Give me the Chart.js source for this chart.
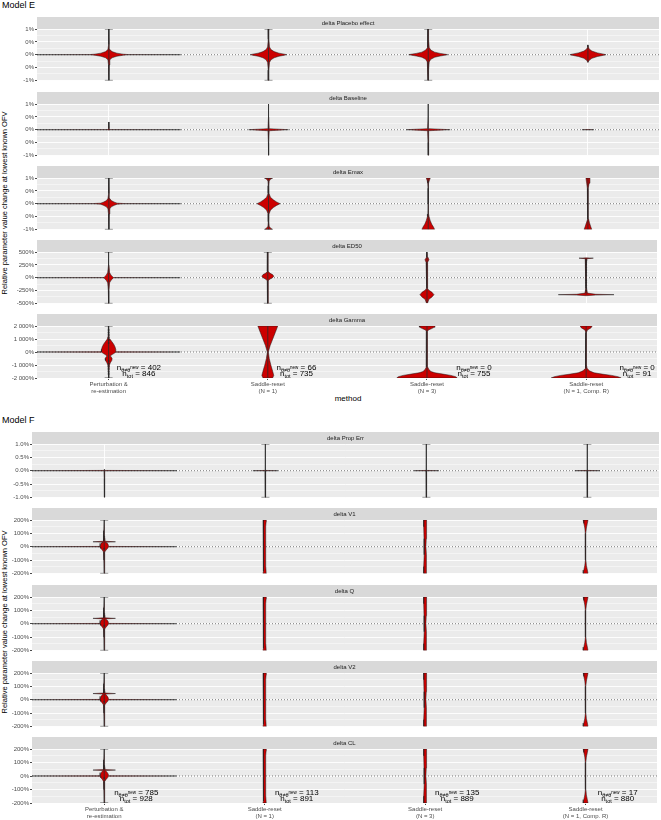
<!DOCTYPE html>
<html lang="en">
<head>
<meta charset="UTF-8">
<title>Relative parameter value change - Model E / Model F</title>
<script src="https://cdn.jsdelivr.net/npm/chart.js"></script>
<style>
  body { margin: 0; background: #fff; font-family: "Liberation Sans", Arial, sans-serif; -webkit-font-smoothing: antialiased; }
  #wrap { position: relative; width: 661px; height: 820px; overflow: hidden; }
  #wrap canvas { position: absolute; left: 0; }
  .lbl { position: absolute; white-space: nowrap; color: #000; line-height: 1; }
  .ytitle { font-size: 7.5px; transform: translate(-50%, -50%) rotate(-90deg); }
</style>
</head>
<body>
<div id="wrap">
  <div class="lbl" style="left:2px; top:1px; font-size:9px;">Model E</div>
  <div class="lbl ytitle" style="left:5px; top:203px;">Relative parameter value change at lowest known OFV</div>
  <div class="lbl" style="left:298px; width:100px; text-align:center; top:395px; font-size:8px;">method</div>

  <div class="lbl" style="left:2px; top:416px; font-size:9px;">Model F</div>
  <div class="lbl ytitle" style="left:5px; top:622px;">Relative parameter value change at lowest known OFV</div>
</div>

<script>
// ---------- data ----------
const categories = [
  ['Perturbation &', 're-estimation'],
  ['Saddle-reset', '(N = 1)'],
  ['Saddle-reset', '(N = 3)'],
  ['Saddle-reset', '(N = 1, Comp. R)']
];

// Model E
const stripsE = ['delta Placebo effect', 'delta Baseline', 'delta Emax', 'delta ED50', 'delta Gamma'];
const nNewE = [402, 66, 0, 0];
const nTotE = [846, 735, 755, 91];

const ticksPct = [-1, -0.5, 0, 0.5, 1];
const labelsPctE = ['-1%', '0%', '0%', '0%', '1%'];
const ticksED50 = [-500, -250, 0, 250, 500];
const labelsED50 = ['-500%', '-250%', '0%', '250%', '500%'];
const ticksGamma = [-2000, -1000, 0, 1000, 2000];
const labelsGamma = ['-2 000%', '-1 000%', '0%', '1 000%', '2 000%'];

// violin profiles: [value, half width] from bottom to top, one per method
const vPlacebo = [
  [[-1, 0], [-0.4, 0.002], [-0.2, 0.006], [-0.12, 0.02], [-0.06, 0.05], [-0.02, 0.09], [-0.005, 0.12], [0, 0.45],
   [0.005, 0.12], [0.02, 0.09], [0.06, 0.05], [0.12, 0.02], [0.2, 0.006], [0.4, 0.002], [1, 0]],
  [[-1, 0.003], [-0.9, 0.002], [-0.6, 0.002], [-0.3, 0.006], [-0.2, 0.015], [-0.12, 0.035], [-0.06, 0.065], [-0.02, 0.1], [0, 0.113],
   [0.02, 0.1], [0.06, 0.065], [0.12, 0.035], [0.2, 0.015], [0.3, 0.006], [0.6, 0.002], [0.9, 0.002], [1, 0.003]],
  [[-1, 0.002], [-0.6, 0.002], [-0.28, 0.006], [-0.18, 0.016], [-0.1, 0.04], [-0.05, 0.075], [-0.015, 0.11], [0, 0.122],
   [0.015, 0.11], [0.05, 0.075], [0.1, 0.04], [0.18, 0.016], [0.28, 0.006], [0.6, 0.002], [1, 0.002]],
  [[-0.3, 0], [-0.22, 0.008], [-0.14, 0.025], [-0.07, 0.06], [-0.02, 0.1], [0, 0.113], [0.02, 0.1], [0.07, 0.06],
   [0.14, 0.025], [0.22, 0.008], [0.3, 0.003], [0.38, 0]]
];
const wPlacebo = [[-1, 1], [-1, 1], [-1, 1], [-0.3, 0.38]];

const vBaseline = [
  [[-0.02, 0], [-0.004, 0.006], [0, 0.45], [0.004, 0.006], [0.05, 0.002], [0.3, 0]],
  [[-1, 0], [-0.5, 0.001], [-0.04, 0.004], [0, 0.125], [0.04, 0.004], [0.5, 0.001], [1, 0]],
  [[-1, 0], [-0.5, 0.001], [-0.04, 0.004], [0, 0.1375], [0.04, 0.004], [0.5, 0.001], [1, 0]],
  [[-0.01, 0], [0, 0.0375], [0.01, 0]]
];
const wBaseline = [[0, 0.3], [-1, 1], [-1, 1], null];

const vEmax = [
  [[-1, 0], [-0.4, 0.002], [-0.2, 0.006], [-0.12, 0.015], [-0.06, 0.035], [-0.02, 0.052], [-0.005, 0.1], [0, 0.45],
   [0.005, 0.1], [0.02, 0.052], [0.06, 0.035], [0.12, 0.015], [0.2, 0.006], [0.4, 0.002], [1, 0]],
  [[-1, 0.025], [-0.95, 0.012], [-0.88, 0.004], [-0.7, 0.002], [-0.4, 0.003], [-0.25, 0.012], [-0.15, 0.03], [-0.07, 0.05], [0, 0.072],
   [0.07, 0.05], [0.15, 0.03], [0.25, 0.012], [0.4, 0.003], [0.7, 0.002], [0.88, 0.004], [0.95, 0.012], [1, 0.025]],
  [[-1, 0.04], [-0.9, 0.032], [-0.8, 0.022], [-0.65, 0.012], [-0.5, 0.005], [-0.4, 0.002], [0, 0.001], [0.6, 0.001],
   [0.8, 0.003], [0.9, 0.007], [1, 0.0125]],
  [[-1, 0.024], [-0.9, 0.018], [-0.75, 0.01], [-0.6, 0.004], [-0.45, 0.001], [0, 0.001], [0.4, 0.001], [0.6, 0.004],
   [0.8, 0.008], [1, 0.0125]]
];
const wEmax = [[-1, 1], [-1, 1], [-1, 1], [-1, 1]];

const vED50 = [
  [[-500, 0], [-250, 0.002], [-100, 0.006], [-50, 0.015], [-20, 0.025], [-3, 0.03], [0, 0.45], [3, 0.03], [20, 0.025],
   [50, 0.015], [100, 0.006], [250, 0.002], [500, 0]],
  [[-500, 0.002], [-300, 0.002], [-60, 0.004], [-30, 0.012], [0, 0.03], [30, 0.0375], [60, 0.03], [90, 0.012],
   [120, 0.004], [300, 0.002], [500, 0.002]],
  [[-490, 0.004], [-420, 0.012], [-380, 0.03], [-330, 0.044], [-280, 0.03], [-240, 0.01], [-200, 0.002], [200, 0.002],
   [300, 0.006], [350, 0.0125], [400, 0.006], [450, 0.002], [500, 0]],
  [[-350, 0], [-338, 0.06], [-330, 0.175], [-322, 0.06], [-300, 0.008], [-200, 0.002], [300, 0.002], [370, 0.006],
   [380, 0.045], [386, 0]]
];
const wED50 = [[-500, 500], [-500, 500], [-490, 500], [-330, 380]];
const pED50 = [[4, 330], [4, 290], [4, 250], [4, 200], [4, 150], [4, 100], [4, 50], [4, -50], [4, -100], [4, -150], [4, -200], [4, -250]];

const vGamma = [
  [[-2000, 0], [-1500, 0.002], [-1000, 0.005], [-800, 0.012], [-650, 0.02], [-500, 0.022], [-380, 0.016], [-300, 0.01],
   [-200, 0.022], [-100, 0.035], [-10, 0.045], [0, 0.45], [10, 0.045], [200, 0.045], [400, 0.04], [600, 0.032], [800, 0.02],
   [1000, 0.008], [1300, 0.003], [2000, 0]],
  [[-2000, 0.03], [-1800, 0.0375], [-1500, 0.031], [-1000, 0.019], [-500, 0.009], [0, 0.003], [500, 0.015],
   [1000, 0.031], [1500, 0.047], [2000, 0.0625]],
  [[-2000, 0.19], [-1900, 0.18], [-1800, 0.15], [-1700, 0.1], [-1600, 0.05], [-1500, 0.025], [-1350, 0.012], [-1150, 0.004],
   [1600, 0.003], [1700, 0.01], [1800, 0.03], [1900, 0.045], [2000, 0.05]],
  [[-2000, 0.22], [-1900, 0.2], [-1800, 0.16], [-1700, 0.1], [-1600, 0.05], [-1450, 0.02], [-1250, 0.006], [-1000, 0.002],
   [1500, 0.002], [1700, 0.008], [1850, 0.03], [2000, 0.0375]]
];
const wGamma = [[-2000, 2000], [-2000, 2000], [-2000, 2000], [-2000, 2000]];
const pGamma = [[1, 1700], [1, 1500], [1, 1300], [1, 1100], [1, 900], [1, 700], [1, -700], [1, -900], [1, -1100], [1, -1300], [1, -1500], [1, -1700]];

// Model F
const stripsF = ['delta Prop Err', 'delta V1', 'delta Q', 'delta V2', 'delta CL'];
const nNewF = [785, 113, 135, 17];
const nTotF = [928, 891, 889, 880];

const labelsPctF = ['-1.0%', '-0.5%', '0.0%', '0.5%', '1.0%'];
const ticks200 = [-200, -100, 0, 100, 200];
const labels200 = ['-200%', '-100%', '0%', '100%', '200%'];

const vPropErr = [
  [[-1, 0], [-0.3, 0.001], [-0.01, 0.003], [0, 0.45], [0.01, 0.003], [0.05, 0]],
  [[-1, 0], [-0.5, 0.001], [-0.01, 0.002], [0, 0.078], [0.01, 0.002], [0.5, 0.001], [1, 0]],
  [[-1, 0], [-0.5, 0.001], [-0.01, 0.002], [0, 0.078], [0.01, 0.002], [0.5, 0.001], [1, 0]],
  [[-1, 0], [-0.5, 0.001], [-0.01, 0.002], [0, 0.078], [0.01, 0.002], [0.5, 0.001], [1, 0]]
];
const wPropErr = [[-1, 0.05], [-1, 1], [-1, 1], [-1, 1]];

// saddle-reset methods look alike in all structural parameters
const vSaddleF = [
  [[-200, 0.011], [-185, 0.009], [-150, 0.007], [0, 0.006], [150, 0.007], [185, 0.009], [200, 0.01]],
  [[-200, 0.009], [-150, 0.009], [-60, 0.007], [0, 0.005], [60, 0.007], [150, 0.009], [200, 0.009]],
  [[-200, 0.015], [-175, 0.011], [-140, 0.005], [-100, 0.002], [-60, 0.001], [60, 0.001], [100, 0.002], [140, 0.005],
   [175, 0.011], [200, 0.015]]
];
const wSaddleF = [null, null, null];

const vV1 = [[[-200, 0], [-100, 0.002], [-40, 0.004], [-25, 0.012], [-12, 0.022], [-2, 0.026], [0, 0.45], [2, 0.026],
  [12, 0.026], [25, 0.02], [33, 0.008], [37, 0.07], [41, 0.006], [70, 0.003], [120, 0.002], [200, 0]], ...vSaddleF];
const vQ = [[[-200, 0], [-100, 0.002], [-40, 0.004], [-25, 0.012], [-12, 0.022], [-2, 0.026], [0, 0.45], [2, 0.026],
  [12, 0.026], [25, 0.02], [36, 0.008], [40, 0.07], [44, 0.006], [70, 0.003], [120, 0.002], [200, 0]], ...vSaddleF];
const vV2 = [[[-200, 0], [-100, 0.002], [-40, 0.004], [-25, 0.012], [-12, 0.022], [-2, 0.026], [0, 0.45], [2, 0.026],
  [12, 0.026], [25, 0.02], [42, 0.008], [46, 0.07], [50, 0.006], [70, 0.003], [120, 0.002], [200, 0]], ...vSaddleF];
const vCL = [[[-200, 0], [-100, 0.002], [-40, 0.004], [-25, 0.012], [-12, 0.022], [-2, 0.026], [0, 0.45], [2, 0.026],
  [12, 0.026], [25, 0.02], [40, 0.008], [44, 0.07], [48, 0.006], [70, 0.003], [120, 0.002], [200, 0]], ...vSaddleF];
const wStructF = [[-200, 200], ...wSaddleF];
const pStructF = [[1, 74], [1, 58], [1, -15]];

// ---------- drawing ----------
const FONT = '"Liberation Sans", Arial, sans-serif';
Chart.defaults.font.family = FONT;

const X_MIN = 0.55, X_MAX = 4.445, CAP = 0.025;

function violinPts(cx, prof) {
  const right = prof.map(([y, w]) => ({ x: cx + w, y }));
  const left = prof.slice().reverse().map(([y, w]) => ({ x: cx - w, y }));
  return right.concat(left, [right[0]]);
}

function whiskerPts(cx, lo, hi, cap) {
  const pts = [{ x: cx, y: lo }, { x: cx, y: hi }];
  if (cap) {
    pts.push({ x: cx, y: null }, { x: cx - CAP, y: hi }, { x: cx + CAP, y: hi },
             { x: cx, y: null }, { x: cx - CAP, y: lo }, { x: cx + CAP, y: lo });
  }
  return pts;
}

function drawN(ctx, cx, cy, sub, sup, rest) {
  ctx.save();
  ctx.fillStyle = '#000';
  ctx.textAlign = 'left';
  ctx.textBaseline = 'alphabetic';
  ctx.font = '8px ' + FONT;
  const wn = ctx.measureText('n').width, wr = ctx.measureText(rest).width;
  ctx.font = '5.5px ' + FONT;
  const ws = ctx.measureText(sub).width;
  ctx.font = '4.5px ' + FONT;
  const wp = sup ? ctx.measureText(sup).width : 0;
  let x = cx - (wn + ws + wp + wr) / 2;
  const base = cy + 2.6;
  ctx.font = '8px ' + FONT; ctx.fillText('n', x, base); x += wn;
  ctx.font = '5.5px ' + FONT; ctx.fillText(sub, x, base + 1.8); x += ws;
  if (sup) { ctx.font = '4.5px ' + FONT; ctx.fillText(sup, x, base - 1.2); x += wp; }
  ctx.font = '8px ' + FONT; ctx.fillText(rest, x, base);
  ctx.restore();
}

function makePanel(p) {
  const h = 12 + p.panelH + (p.bottom ? p.xAxisH : 4);
  const canvas = document.createElement('canvas');
  canvas.width = 661; canvas.height = h;
  canvas.style.top = p.top + 'px';
  canvas.style.width = '661px'; canvas.style.height = h + 'px';
  document.getElementById('wrap').appendChild(canvas);

  const minor = [];
  for (let i = 0; i < p.ticks.length - 1; i++) minor.push((p.ticks[i] + p.ticks[i + 1]) / 2);
  const allTicks = p.ticks.concat(minor).sort((a, b) => a - b);
  const isMajor = v => p.ticks.includes(v);

  const datasets = [{
    data: [{ x: X_MIN, y: 0 }, { x: X_MAX, y: 0 }],
    borderColor: '#222', borderWidth: 0.6, borderDash: [1, 2], pointRadius: 0, order: 5
  }];
  p.violins.forEach((prof, i) => {
    datasets.push({
      data: violinPts(i + 1, prof), fill: 'shape', backgroundColor: '#cc0000',
      borderColor: '#1a1a1a', borderWidth: 0.5, pointRadius: 0, tension: 0, order: 2
    });
  });
  p.whiskers.forEach((w, i) => {
    if (!w) return;
    datasets.push({
      data: whiskerPts(i + 1, w[0], w[1], p.caps[i]), borderColor: '#2b2b2b', borderWidth: 0.8,
      pointRadius: 0, spanGaps: false, order: 1
    });
  });
  if (p.points && p.points.length) {
    datasets.push({
      data: p.points.map(([c, v]) => ({ x: c, y: v })), showLine: false,
      pointRadius: 1, pointBackgroundColor: 'rgba(40,40,40,0.7)', pointBorderWidth: 0, order: 0
    });
  }

  const stripPlugin = {
    id: 'strip',
    beforeDraw(chart) {
      const { ctx, chartArea: a } = chart;
      ctx.save();
      ctx.fillStyle = '#ebebeb';
      ctx.fillRect(a.left, a.top, a.right - a.left, a.bottom - a.top);
      ctx.fillStyle = '#d9d9d9';
      ctx.fillRect(a.left, a.top - 12, a.right - a.left, 12);
      ctx.fillStyle = '#1a1a1a';
      ctx.font = '6px ' + FONT;
      ctx.textAlign = 'center';
      ctx.textBaseline = 'middle';
      ctx.fillText(p.strip, (a.left + a.right) / 2, a.top - 6);
      ctx.restore();
    },
    afterDatasetsDraw(chart) {
      if (!p.nNew) return;
      const { ctx, chartArea: a, scales: { x } } = chart;
      p.nNew.forEach((n, i) => {
        const cx = x.getPixelForValue(i + 1 + p.annoDx[i]);
        drawN(ctx, cx, a.bottom - 10.2, 'θ≠θ', 'new', ' = ' + n);
        drawN(ctx, cx, a.bottom - 4.2, 'tot', '', ' = ' + p.nTot[i]);
      });
    }
  };

  new Chart(canvas, {
    type: 'line',
    data: { datasets },
    options: {
      responsive: false,
      devicePixelRatio: 1,
      animation: false,
      events: [],
      layout: { padding: { top: 12, right: 2, left: 0, bottom: p.bottom ? 0 : 4 } },
      plugins: { legend: { display: false }, tooltip: { enabled: false } },
      scales: {
        x: {
          type: 'linear', min: X_MIN, max: X_MAX,
          afterBuildTicks: s => { s.ticks = [1, 2, 3, 4].map(v => ({ value: v })); },
          ticks: {
            display: !!p.bottom, autoSkip: false, maxRotation: 0, padding: 1,
            color: '#4d4d4d', font: { size: 6, lineHeight: 1.1 },
            callback: v => categories[v - 1]
          },
          grid: { color: '#ffffff', lineWidth: 0.9, drawTicks: !!p.bottom, tickLength: 2, tickColor: '#333' },
          border: { display: false },
          afterFit: s => { s.height = p.bottom ? p.xAxisH : 0; }
        },
        y: {
          min: p.ticks[0], max: p.ticks[p.ticks.length - 1],
          afterBuildTicks: s => { s.ticks = allTicks.map(v => ({ value: v })); },
          ticks: {
            autoSkip: false, padding: 1, color: '#4d4d4d', font: { size: 6 },
            callback: v => { const i = p.ticks.indexOf(v); return i >= 0 ? p.labels[i] : ''; }
          },
          grid: {
            color: '#ffffff',
            lineWidth: c => (c.tick && isMajor(c.tick.value)) ? 0.9 : 0.45,
            tickLength: 2,
            tickColor: c => (c.tick && isMajor(c.tick.value)) ? '#333' : 'rgba(0,0,0,0)'
          },
          border: { display: false },
          afterFit: s => { s.width = p.axisW; }
        }
      }
    },
    plugins: [stripPlugin]
  });
}

const capsAll = [true, true, true, false];
const panelsE = [
  { strip: stripsE[0], ticks: ticksPct, labels: labelsPctE, violins: vPlacebo, whiskers: wPlacebo, caps: capsAll },
  { strip: stripsE[1], ticks: ticksPct, labels: labelsPctE, violins: vBaseline, whiskers: wBaseline, caps: [false, false, false, false] },
  { strip: stripsE[2], ticks: ticksPct, labels: labelsPctE, violins: vEmax, whiskers: wEmax, caps: [true, true, false, false] },
  { strip: stripsE[3], ticks: ticksED50, labels: labelsED50, violins: vED50, whiskers: wED50, caps: [true, true, false, false], points: pED50 },
  { strip: stripsE[4], ticks: ticksGamma, labels: labelsGamma, violins: vGamma, whiskers: wGamma, caps: [true, false, false, false], points: pGamma,
    nNew: nNewE, nTot: nTotE, annoDx: [0.19, 0.18, 0.295, 0.32] }
];
const topsE = [17, 92, 166, 240, 314];
panelsE.forEach((p, i) => makePanel(Object.assign(p, {
  top: topsE[i], panelH: 52, axisW: 37, xAxisH: 20, bottom: i === panelsE.length - 1
})));

const panelsF = [
  { strip: stripsF[0], ticks: ticksPct, labels: labelsPctF, violins: vPropErr, whiskers: wPropErr, caps: [false, true, true, true] },
  { strip: stripsF[1], ticks: ticks200, labels: labels200, violins: vV1, whiskers: wStructF, caps: [true], points: pStructF },
  { strip: stripsF[2], ticks: ticks200, labels: labels200, violins: vQ, whiskers: wStructF, caps: [true], points: pStructF },
  { strip: stripsF[3], ticks: ticks200, labels: labels200, violins: vV2, whiskers: wStructF, caps: [true], points: pStructF },
  { strip: stripsF[4], ticks: ticks200, labels: labels200, violins: vCL, whiskers: wStructF, caps: [true], points: pStructF,
    nNew: nNewF, nTot: nTotF, annoDx: [0.2, 0.2, 0.2, 0.2] }
];
const topsF = [432, 508, 585, 661, 737];
panelsF.forEach((p, i) => makePanel(Object.assign(p, {
  top: topsF[i], panelH: 54, axisW: 32, xAxisH: 17, bottom: i === panelsF.length - 1
})));
</script>
</body>
</html>
